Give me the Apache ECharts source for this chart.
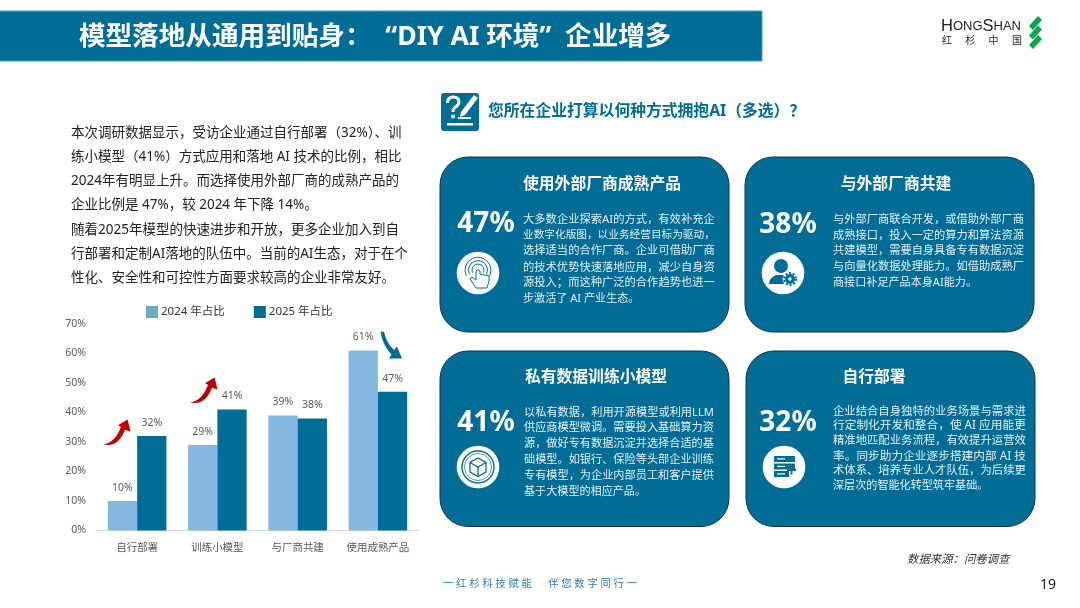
<!DOCTYPE html>
<html><head><meta charset="utf-8">
<style>html,body{margin:0;padding:0;background:#fff}#c{width:1080px;height:608px}</style>
<script src="https://cdn.jsdelivr.net/npm/echarts@6/dist/echarts.min.js"></script>
</head><body><div id="c"></div>
<script>
const categories = ['自行部署','训练小模型','与厂商共建','使用成熟产品'];
const share2024 = [10,29,39,61];
const share2025 = [32,41,38,47];
const yTicks = {min:0,max:70,interval:10};
const seriesNames = ['2024 年占比','2025 年占比'];
const titleText = '模型落地从通用到贴身：  “DIY AI 环境”  企业增多';
const questionText = '您所在企业打算以何种方式拥抱AI（多选）？';
const introLines = [
 '本次调研数据显示，受访企业通过自行部署（32%）、训',
 '练小模型（41%）方式应用和落地 AI 技术的比例，相比',
 '2024年有明显上升。而选择使用外部厂商的成熟产品的',
 '企业比例是 47%，较 2024 年下降 14%。',
 '随着2025年模型的快速进步和开放，更多企业加入到自',
 '行部署和定制AI落地的队伍中。当前的AI生态，对于在个',
 '性化、安全性和可控性方面要求较高的企业非常友好。'];
const introY = [131.7,155.7,180,204.3,228.7,253,277];
const card1Lines = ['大多数企业探索AI的方式，有效补充企','业数字化版图，以业务经营目标为驱动，','选择适当的合作厂商。企业可借助厂商','的技术优势快速落地应用，减少自身资','源投入；而这种广泛的合作趋势也进一','步激活了 AI 产业生态。'];
const card2Lines = ['与外部厂商联合开发，或借助外部厂商','成熟接口，投入一定的算力和算法资源','共建模型，需要自身具备专有数据沉淀','与向量化数据处理能力。如借助成熟厂','商接口补足产品本身AI能力。'];
const card3Lines = ['以私有数据，利用开源模型或利用LLM','供应商模型微调。需要投入基础算力资','源，做好专有数据沉淀并选择合适的基','础模型。如银行、保险等头部企业训练','专有模型，为企业内部员工和客户提供','基于大模型的相应产品。'];
const card4Lines = ['企业结合自身独特的业务场景与需求进','行定制化开发和整合，使 AI 应用能更','精准地匹配业务流程，有效提升运营效','率。同步助力企业逐步搭建内部 AI 技','术体系、培养专业人才队伍，为后续更','深层次的智能化转型筑牢基础。'];

const TEAL='#006d96', LIGHT='#85b8e0', CJK='"Noto Sans","Noto Sans CJK SC"';
const measure=document.createElement('canvas').getContext('2d');
function fitSize(t,w,base){measure.font='100px '+CJK;return Math.min(base*1.06,Math.max(base*0.92,w/measure.measureText(t).width*100));}
function txt(t,x,y,size,fill,o){o=o||{};return {type:'text',x,y:y+size*0.1,z:20,style:{text:t,fill,font:(o.style||'')+' '+(o.weight||'')+' '+size+'px '+(o.family||CJK),textAlign:o.align||'left',textVerticalAlign:'middle'}};}
function rrect(x,y,w,h,r,fill,extra){return {type:'rect',z:5,shape:{x,y,width:w,height:h,r},style:Object.assign({fill},extra||{})};}
let pathCount=0;
function pth(d,style,x,y){const name='iconPath'+(pathCount++);echarts.graphic.registerShape(name,echarts.graphic.extendPath(d,{}));return {type:name,z:21,x:x||0,y:y||0,style};}
function circ(cx,cy,r,style){return {type:'circle',z:21,shape:{cx,cy,r},style};}
const g=[];
// header
g.push(rrect(-2,11,764,50,0,TEAL,{stroke:'#4f9ab8',lineWidth:1}));
g.push(txt(titleText,79,35,26.6,'#fff',{weight:'bold'}));
// logo
g.push({type:'text',x:941,y:26,z:20,style:{text:'{a|H}{b|ONG}{a|S}{b|HAN}',textVerticalAlign:'middle',rich:{a:{font:'16.5px "Liberation Sans"',fill:'#222'},b:{font:'13px "Liberation Sans"',fill:'#222'}}}});
['红','杉','中','国'].forEach((c,i)=>g.push(txt(c,942+i*23.3,40,10,'#222')));
[0,9.5,19].forEach(dy=>g.push({type:'polygon',z:20,shape:{points:[[1029,26+dy],[1038,16+dy],[1042,20+dy],[1033,30+dy]]},style:{fill:'#0aa84a'}}));
// intro
introLines.forEach((l,i)=>g.push(txt(l,71,introY[i],13.5,'#222')));
// question
g.push(rrect(441,93,38,38,3,TEAL));
g.push(pth('M447.5,103 Q447.5,97 453,97 Q459,97 459,102 Q459,105 455,107.5 Q453,109 453,112',{fill:'none',stroke:'#fff',lineWidth:3}));
g.push(circ(453,116.5,2,{fill:'#fff'}));
g.push(pth('M461,112 L474,95 L478,98 L465,115 L460,117 Z',{fill:'#fff'}));
g.push(Object.assign(rrect(458,117,13,2,0,'#fff'),{z:21}));
g.push(Object.assign(rrect(447,123,26,2.5,0,'#fff'),{z:21}));
g.push(txt(questionText,488,110,15.8,TEAL,{weight:'bold'}));
// cards
const cards=[
 {x:440,y:157,w:289,h:175,title:'使用外部厂商成熟产品',tx:602,ty:183,pct:'47%',px:486,py:221,ix:478,iy:273,lines:card1Lines,lx:523,ly:[219,234.5,250,266.5,282,298],lw:192},
 {x:745,y:157,w:289,h:175,title:'与外部厂商共建',tx:896,ty:183,pct:'38%',px:788,py:222,ix:783,iy:273,lines:card2Lines,lx:833,ly:[219,234.5,250,266,282],lw:191},
 {x:440,y:351,w:289,h:175.5,title:'私有数据训练小模型',tx:596,ty:376,pct:'41%',px:486,py:420,ix:478,iy:467,lines:card3Lines,lx:524,ly:[411.7,427.3,443.3,458.7,475,490.7],lw:190},
 {x:746,y:351,w:289,h:175.5,title:'自行部署',tx:874,ty:376,pct:'32%',px:788,py:420,ix:784,iy:467,lines:card4Lines,lx:833,ly:[410.7,425,440,455.3,469.7,485],lw:193}];
cards.forEach(c=>{
 g.push(rrect(c.x,c.y,c.w,c.h,28,TEAL,{stroke:'#12334a',lineWidth:1}));
 g.push(txt(c.title,c.tx,c.ty,15.8,'#fff',{weight:'bold',align:'center'}));
 g.push(txt(c.pct,c.px,c.py,28,'#fff',{weight:'bold',align:'center'}));
 c.lines.forEach((l,i)=>{
  const last=i===c.lines.length-1;
  const s=last?11.1:fitSize(l,c.lw,11.1);
  g.push(txt(l,c.lx,c.ly[i]-0.3,+s.toFixed(2),'#e6f0f5'));
 });
 g.push(circ(c.ix,c.iy,21.3,{fill:'#fff'}));
});
// icon 1: touch rings + hand
const ts={fill:'none',stroke:TEAL,lineWidth:1};
[13,9.5,6].forEach(r=>g.push(pth(`M${478-r*0.9},${270+r*0.45} A${r},${r} 0 1 1 ${478+r*0.9},${270+r*0.45}`,ts)));
g.push(pth('M476,271 L476,280 L472,277 L470,279 L476,288 L487,288 L489,281 L489,276 L480,274 L480,271 Q478,268 476,271 Z',{fill:'#fff',stroke:TEAL,lineWidth:1}));
// icon 2: person + gear
g.push(circ(781,266,7,{fill:TEAL}));
g.push(pth('M769,284 Q769,278 776,275 L786,275 L790,284 Z',{fill:TEAL}));
g.push(circ(790,279,7.5,{fill:'#fff'}));
g.push(circ(790,279,5,{fill:TEAL}));
g.push(circ(790,279,6,{fill:'none',stroke:TEAL,lineWidth:2,lineDash:[2,1.8]}));
g.push(Object.assign(circ(790,279,1.8,{fill:'#fff'}),{z:22}));
// icon 3: badge + cube
g.push(circ(478,467,16,{fill:'none',stroke:TEAL,lineWidth:1.4}));
g.push(circ(478,467,13.5,{fill:'none',stroke:TEAL,lineWidth:.7}));
g.push(pth('M478,458 L486,462.5 L486,472 L478,476.5 L470,472 L470,462.5 Z M470,462.5 L478,467 L486,462.5 M478,467 L478,476.5',{fill:'none',stroke:TEAL,lineWidth:1.3}));
// icon 4: server
[456,463.5,471].forEach((y,i)=>{
 g.push(Object.assign(rrect(774,y,i==2?15:21,6,0,TEAL),{z:21}));
 g.push(Object.assign(rrect(777,y+2.3,8,1.2,0,'#fff'),{z:22}));
});
g.push(Object.assign(pth('M787,470 H796 M791.5,465.5 V474.5',{fill:'none',stroke:TEAL,lineWidth:1.8}),{z:23}));
// arrows
const upArrow='M103.3,444.3 Q115,443 121,426.7 L118,425.2 L127.6,419.5 L130.5,431.5 L125,429.7 Q118,448 103.3,444.3 Z';
g.push(pth(upArrow,{fill:'#c00000'}));
g.push(pth(upArrow,{fill:'#c00000'},87,-42));
g.push(pth('M380.5,331.7 Q382.5,345 391.5,354.5 L389,358.5 L402,358.5 L397,346.5 L394,350 Q386.5,343 384,331.7 Z',{fill:TEAL}));
// footer
g.push(txt('一 红 杉 科 技 赋 能      伴 您 数 字 同 行 一',443,583,10.4,'#2f7ea3'));
g.push(txt('数据来源：问卷调查',907,558.5,11.4,'#333',{style:'italic'}));
g.push(txt('19',1040,584,14,'#222'));

const chart=echarts.init(document.getElementById('c'),null,{renderer:'canvas'});
const lblFont={fontFamily:'"Noto Sans","Noto Sans CJK SC"',fontSize:10.5,color:'#595959'};
chart.setOption({
 animation:false,
 textStyle:{fontFamily:'"Noto Sans CJK SC"'},
 legend:{top:306,left:146,padding:0,itemGap:29,itemWidth:12,itemHeight:12,icon:'rect',
  textStyle:{fontFamily:'"Noto Sans","Noto Sans CJK SC"',fontSize:11.5,color:'#333',padding:[0,0,0,-2]},
  data:[{name:seriesNames[0],itemStyle:{color:'#6aa9c4'}},{name:seriesNames[1],itemStyle:{color:TEAL}}]},
 grid:{left:97,right:662,top:324,bottom:77.5,containLabel:false},
 xAxis:{type:'category',data:categories,axisTick:{show:false},axisLine:{lineStyle:{color:'#d9d9d9'}},
  axisLabel:Object.assign({},lblFont,{margin:12,interval:0,hideOverlap:false})},
 yAxis:{type:'value',min:yTicks.min,max:yTicks.max,interval:yTicks.interval,splitLine:{show:false},axisLine:{show:false},axisTick:{show:false},
  axisLabel:Object.assign({},lblFont,{formatter:'{value}%',margin:11,padding:[4,0,0,0]})},
 series:[
  {name:seriesNames[0],type:'bar',data:share2024,barGap:0,barCategoryGap:'27%',itemStyle:{color:LIGHT},
   label:Object.assign({show:true,position:'top',distance:8,formatter:'{c}%'},lblFont)},
  {name:seriesNames[1],type:'bar',data:share2025,itemStyle:{color:TEAL},
   label:Object.assign({show:true,position:'top',distance:8,formatter:'{c}%'},lblFont)}
 ],
 graphic:{elements:g}
});
</script></body></html>
